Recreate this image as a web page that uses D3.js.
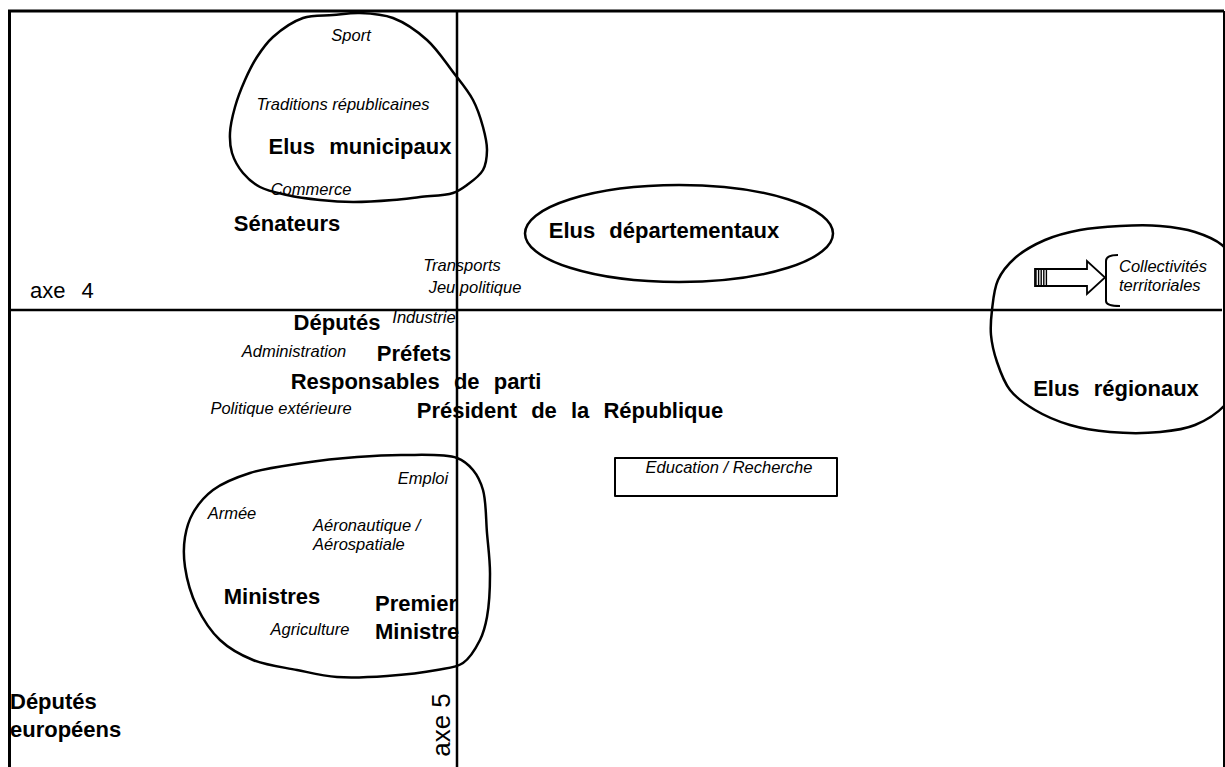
<!DOCTYPE html>
<html>
<head>
<meta charset="utf-8">
<script src="https://cdn.jsdelivr.net/npm/d3@7"></script>
<style>
  html, body { margin: 0; padding: 0; background: #fff; }
  svg { display: block; }
  text { font-family: "Liberation Sans", Arial, sans-serif; fill: #000; }
</style>
</head>
<body>
<svg id="chart" width="1225" height="767"></svg>
<script>
// Factorial map: axe 4 (horizontal) x axe 5 (vertical)
// Actors (bold labels): [label, x, y]
const actors = [
  ["Elus municipaux", -0.97, 1.64],
  ["Sénateurs", -1.70, 0.87],
  ["Elus départementaux", 2.07, 0.80],
  ["Députés", -1.20, -0.12],
  ["Préfets", -0.43, -0.43],
  ["Responsables de parti", -0.41, -0.71],
  ["Président de la République", 1.13, -1.00],
  ["Elus régionaux", 6.59, -0.78],
  ["Ministres", -1.85, -2.86]
];
// multi-line actors (left edge x, block centre y)
const actorsMulti = [
  [["Premier", "Ministre"], -0.82, -3.07],
  [["Députés", "européens"], -4.47, -4.055]
];
// Themes (italic labels)
const themes = [
  ["Sport", -1.06, 2.75],
  ["Traditions républicaines", -1.14, 2.06],
  ["Commerce", -1.46, 1.21],
  ["Transports", 0.05, 0.45],
  ["Jeu politique", 0.18, 0.23],
  ["Industrie", -0.33, -0.07],
  ["Administration", -1.63, -0.41],
  ["Politique extérieure", -1.76, -0.98],
  ["Education / Recherche", 2.72, -1.57],
  ["Emploi", -0.34, -1.68],
  ["Armée", -2.25, -2.03],
  ["Agriculture", -1.47, -3.19]
];
const themesMulti = [
  [["Collectivités", "territoriales"], 6.62, 0.345],
  [["Aéronautique /", "Aérospatiale"], -1.44, -2.24]
];
const axisLabels = { h: ["axe 4", -4.27, 0.195], v: ["axe 5", -0.16, -4.15] };

// Groupings drawn by hand
const blobMunicipaux = [[-1.84,2.73],[-1.54,2.92],[-1.24,2.95],[-0.97,2.97],[-0.64,2.92],[-0.30,2.70],[-0.04,2.38],[0.16,2.10],[0.26,1.83],[0.30,1.60],[0.26,1.40],[0.10,1.25],[-0.04,1.17],[-0.37,1.13],[-0.64,1.10],[-1.04,1.08],[-1.37,1.10],[-1.70,1.15],[-1.97,1.23],[-2.14,1.37],[-2.25,1.57],[-2.27,1.77],[-2.22,2.03],[-2.12,2.30],[-2.00,2.53]];
const blobRegionaux = [[5.35,0.00],[5.41,0.30],[5.58,0.52],[5.88,0.70],[6.23,0.80],[6.63,0.84],[7.03,0.84],[7.38,0.78],[7.65,0.65],[7.83,0.40],[7.91,-0.10],[7.85,-0.65],[7.68,-0.95],[7.38,-1.15],[7.03,-1.22],[6.53,-1.22],[6.13,-1.15],[5.78,-1.00],[5.53,-0.80],[5.40,-0.52],[5.34,-0.25]];
const blobMinistres = [[-1.54,-1.53],[-1.00,-1.47],[-0.54,-1.45],[0.00,-1.48],[0.16,-1.60],[0.26,-1.80],[0.30,-2.23],[0.33,-2.63],[0.30,-3.07],[0.23,-3.30],[0.06,-3.53],[-0.20,-3.60],[-0.70,-3.66],[-1.20,-3.67],[-1.60,-3.60],[-2.04,-3.50],[-2.37,-3.30],[-2.60,-2.97],[-2.72,-2.57],[-2.72,-2.27],[-2.64,-2.03],[-2.44,-1.80],[-2.07,-1.63]];
const ellipseDept = { cx: 2.22, cy: 0.765, rx: 1.54, ry: 0.485 };
const boxEducation = { x0: 1.58, x1: 3.80, y0: -1.48, y1: -1.86 };
const arrowColl = { xStart: 5.78, xHatch: 5.91, xShaft: 6.30, xTip: 6.48, y: 0.325, hs: 0.085, hh: 0.165 };
const bracketColl = { x: 6.49, xEnd: 6.61, yTop: 0.55, yBot: 0.04 };

const xDomain = [-4.47, 7.67], yDomain = [2.99, -4.57];

const svg = d3.select("#chart");
const x = d3.scaleLinear().domain(xDomain).range([10, 1224]);
const y = d3.scaleLinear().domain(yDomain).range([11, 767]);

// frame
const frame = svg.append("g").attr("stroke", "#000").attr("fill", "none");
frame.append("line").attr("x1", x(xDomain[0]) - 2).attr("x2", x(xDomain[1])).attr("y1", y(yDomain[0])).attr("y2", y(yDomain[0])).attr("stroke-width", 3);
frame.append("line").attr("x1", x(xDomain[0]) - 0.5).attr("x2", x(xDomain[0]) - 0.5).attr("y1", y(yDomain[0])).attr("y2", y(yDomain[1])).attr("stroke-width", 3);
frame.append("line").attr("x1", x(xDomain[1])).attr("x2", x(xDomain[1])).attr("y1", y(yDomain[0])).attr("y2", y(yDomain[1])).attr("stroke-width", 2);

// axes
const axes = svg.append("g").attr("stroke", "#000").attr("stroke-width", 2.5);
axes.append("line").attr("x1", x(xDomain[0])).attr("x2", x(7.65)).attr("y1", y(0)).attr("y2", y(0));
axes.append("line").attr("x1", x(0)).attr("x2", x(0)).attr("y1", y(yDomain[0])).attr("y2", y(yDomain[1]));

// blobs
const blobLine = d3.line().x(d => x(d[0])).y(d => y(d[1])).curve(d3.curveCatmullRomClosed.alpha(0.5));
const shapes = svg.append("g").attr("stroke", "#000").attr("stroke-width", 2.5).attr("fill", "none").attr("stroke-linejoin", "round");
[blobMunicipaux, blobRegionaux, blobMinistres].forEach(b => shapes.append("path").attr("d", blobLine(b)));
shapes.append("ellipse")
  .attr("cx", x(ellipseDept.cx)).attr("cy", y(ellipseDept.cy))
  .attr("rx", x(ellipseDept.rx) - x(0)).attr("ry", y(0) - y(ellipseDept.ry));
shapes.append("rect")
  .attr("x", x(boxEducation.x0)).attr("y", y(boxEducation.y0))
  .attr("width", x(boxEducation.x1) - x(boxEducation.x0))
  .attr("height", y(boxEducation.y1) - y(boxEducation.y0))
  .attr("stroke-width", 2);

// arrow
const a = arrowColl;
const arrowPts = [
  [a.xStart, a.y + a.hs], [a.xShaft, a.y + a.hs], [a.xShaft, a.y + a.hh], [a.xTip, a.y],
  [a.xShaft, a.y - a.hh], [a.xShaft, a.y - a.hs], [a.xStart, a.y - a.hs]
];
svg.append("path")
  .attr("d", d3.line().x(d => x(d[0])).y(d => y(d[1]))(arrowPts) + "Z")
  .attr("fill", "#fff").attr("stroke", "#000").attr("stroke-width", 1.8).attr("stroke-linejoin", "miter");
const hatch = svg.append("g").attr("stroke", "#000").attr("stroke-width", 1.4);
d3.range(a.xStart, a.xHatch, (a.xHatch - a.xStart) / 5).forEach(v => {
  hatch.append("line").attr("x1", x(v) + 1).attr("x2", x(v) + 1).attr("y1", y(a.y + a.hs)).attr("y2", y(a.y - a.hs));
});
// bracket
const b = bracketColl;
svg.append("path")
  .attr("d", `M${x(b.xEnd)},${y(b.yTop)} Q${x(b.x)},${y(b.yTop)} ${x(b.x)},${y(b.yTop) + 6} L${x(b.x)},${y(b.yBot) - 5} Q${x(b.x)},${y(b.yBot)} ${x(b.xEnd) + 2},${y(b.yBot)}`)
  .attr("fill", "none").attr("stroke", "#000").attr("stroke-width", 2);

// labels
const boldStyle = s => s.attr("font-weight", "bold").attr("font-size", 22).attr("word-spacing", 8);
const italStyle = s => s.attr("font-style", "italic").attr("font-size", 16.5);

svg.append("g").selectAll("text").data(actors).join("text")
  .attr("x", d => x(d[1])).attr("y", d => y(d[2])).attr("text-anchor", "middle")
  .attr("dominant-baseline", "central").text(d => d[0]).call(boldStyle);

svg.append("g").selectAll("text").data(themes).join("text")
  .attr("x", d => x(d[1])).attr("y", d => y(d[2])).attr("text-anchor", "middle")
  .attr("dominant-baseline", "central").text(d => d[0]).call(italStyle);

function multi(data, style, lh) {
  const g = svg.append("g");
  data.forEach(d => {
    const n = d[0].length;
    d[0].forEach((line, i) => {
      g.append("text").attr("x", x(d[1])).attr("y", y(d[2]) + (i - (n - 1) / 2) * lh)
        .attr("dominant-baseline", "central").text(line).call(style);
    });
  });
}
multi(actorsMulti, boldStyle, 28);
multi(themesMulti, italStyle, 19);

// axis titles
svg.append("text").attr("x", x(axisLabels.h[1])).attr("y", y(axisLabels.h[2]))
  .attr("dominant-baseline", "central").attr("font-size", 22).attr("word-spacing", 10).text(axisLabels.h[0]);
svg.append("text").attr("transform", `translate(${x(axisLabels.v[1])},${y(axisLabels.v[2])}) rotate(-90)`)
  .attr("text-anchor", "middle").attr("dominant-baseline", "central").attr("font-size", 26).text(axisLabels.v[0]);
</script>
</body>
</html>
